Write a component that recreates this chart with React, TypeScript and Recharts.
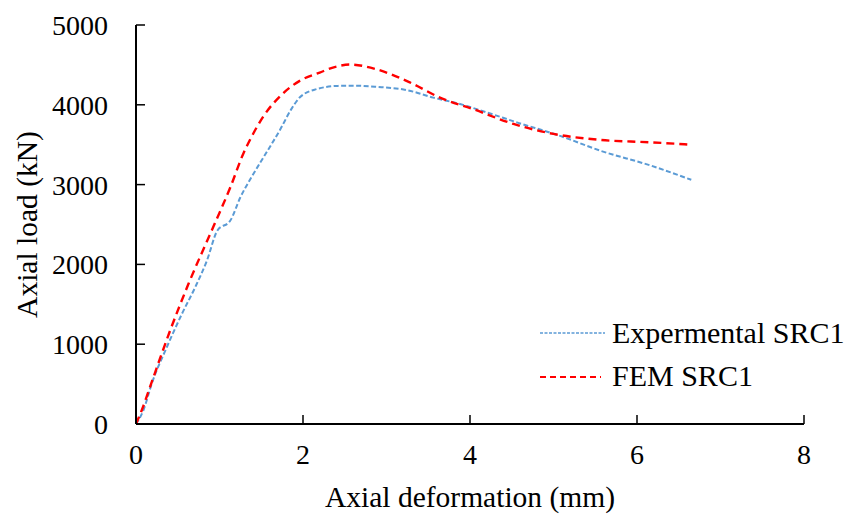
import { LineChart, Line, XAxis, YAxis } from "recharts"

const expX = [0, 0.09, 0.19, 0.37, 0.55, 0.71, 0.85, 0.975, 1.13, 1.25, 1.37, 1.49, 1.73, 1.86, 1.96, 2.16, 2.42, 2.6, 2.88, 3.24, 3.56, 3.88, 4.2, 4.56, 5.08, 5.56, 6.16, 6.65]
const expY = [0, 175, 510, 965, 1380, 1716, 2050, 2425, 2550, 2841, 3071, 3279, 3696, 3946, 4091, 4196, 4237, 4240, 4225, 4185, 4090, 4010, 3905, 3780, 3610, 3425, 3240, 3060]

const femX = [0, 0.07, 0.19, 0.41, 0.63, 0.93, 1.13, 1.29, 1.37, 1.53, 1.73, 1.96, 2.2, 2.4, 2.56, 2.88, 3.28, 3.64, 4.04, 4.52, 5.0, 5.56, 6.16, 6.65]
const femY = [0, 175, 530, 1175, 1760, 2480, 2966, 3400, 3571, 3862, 4112, 4300, 4404, 4479, 4505, 4445, 4280, 4090, 3945, 3760, 3635, 3560, 3530, 3500]

const xTicks = [0, 2, 4, 6, 8]
const yTicks = [0, 1000, 2000, 3000, 4000, 5000]

const seriesNames = ["Expermental SRC1", "FEM SRC1"]

const expData = expX.map((x, i) => ({ x, y: expY[i] }))
const femData = femX.map((x, i) => ({ x, y: femY[i] }))

const font = "'Liberation Serif', 'Times New Roman', serif"

function ChartLegend() {
  return (
    <svg width={846} height={514} style={{ position: "absolute", left: 0, top: 0, pointerEvents: "none" }}>
      <line x1={540} y1={333} x2={605} y2={333} stroke="#5B9BD5" strokeWidth={1.5} strokeDasharray="3 1.5" />
      <text x={612} y={343} fontFamily={font} fontSize={30} fill="#000">{seriesNames[0]}</text>
      <line x1={540} y1={377} x2={601} y2={377} stroke="#FF0000" strokeWidth={2} strokeDasharray="6 4" />
      <text x={612} y={386} fontFamily={font} fontSize={30} fill="#000">{seriesNames[1]}</text>
    </svg>
  )
}

export default function App() {
  return (
    <div style={{ position: "absolute", left: 0, top: 0, width: 846, height: 514, background: "#fff" }}>
      <LineChart width={846} height={514} margin={{ top: 25, right: 42, left: 0, bottom: 0 }}>
        <XAxis
          type="number"
          dataKey="x"
          domain={[0, 8]}
          ticks={xTicks}
          height={90}
          tickSize={-9}
          tickMargin={29}
          axisLine={{ stroke: "#000", strokeWidth: 2 }}
          tickLine={{ stroke: "#000", strokeWidth: 1.5 }}
          tick={{ fill: "#000", fontSize: 28, fontFamily: font }}
          label={{ value: "Axial deformation (mm)", position: "insideBottom", offset: 7, fill: "#000", fontSize: 29.5, fontFamily: font }}
        />
        <YAxis
          type="number"
          domain={[0, 5000]}
          ticks={yTicks}
          width={136}
          tickSize={-9}
          tickMargin={37}
          axisLine={{ stroke: "#000", strokeWidth: 2 }}
          tickLine={{ stroke: "#000", strokeWidth: 1.5 }}
          tick={{ fill: "#000", fontSize: 28, fontFamily: font }}
          label={{ value: "Axial load (kN)", angle: -90, position: "insideLeft", offset: 27, fill: "#000", fontSize: 29.5, fontFamily: font, style: { textAnchor: "middle" } }}
        />
        <Line data={expData} dataKey="y" name={seriesNames[0]} type="monotone" stroke="#5B9BD5" strokeWidth={2} strokeDasharray="5 2.5" dot={false} isAnimationActive={false} />
        <Line data={femData} dataKey="y" name={seriesNames[1]} type="monotone" stroke="#FF0000" strokeWidth={2.4} strokeDasharray="8 5" dot={false} isAnimationActive={false} />
      </LineChart>
      <ChartLegend />
    </div>
  )
}
